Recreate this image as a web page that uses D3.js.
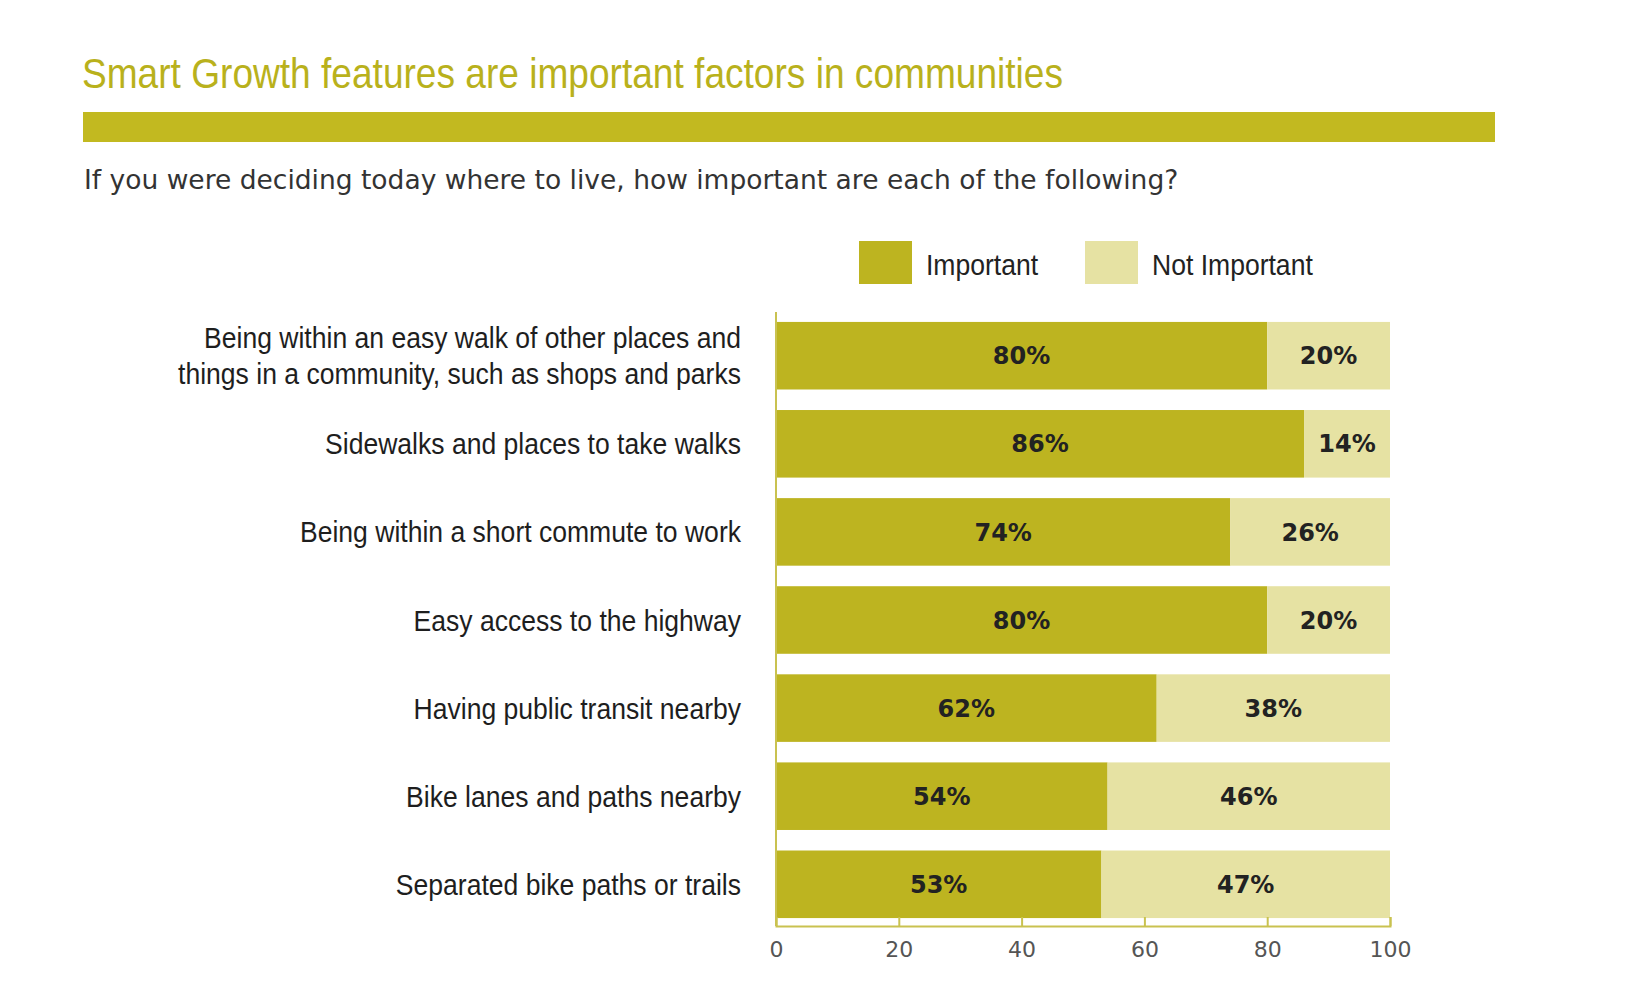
<!DOCTYPE html>
<html>
<head>
<meta charset="utf-8">
<script src="https://cdn.jsdelivr.net/npm/d3@7"></script>
<style>
  body { margin: 0; background: #fff; }
  .narrow { font-family: 'Liberation Sans', 'Arimo', 'Roboto', sans-serif; }
  .wide { font-family: 'DejaVu Sans', 'Lato', sans-serif; }
</style>
</head>
<body>
<svg id="svg_growth" width="1630" height="991"></svg>
<script>
const categories = [
  ['Being within an easy walk of other places and', 'things in a community, such as shops and parks'],
  ['Sidewalks and places to take walks'],
  ['Being within a short commute to work'],
  ['Easy access to the highway'],
  ['Having public transit nearby'],
  ['Bike lanes and paths nearby'],
  ['Separated bike paths or trails']
]
const important = [80, 86, 74, 80, 62, 54, 53]
const notImportant = [20, 14, 26, 20, 38, 46, 47]
const seriesNames = ['Important', 'Not Important']
const xTicks = [0, 20, 40, 60, 80, 100]

const colors = ['#bdb420', '#e6e2a3']

// squeeze sideways to mimic the condensed face of the original
const squeeze = 0.885

function drawChart() {
  const svg = d3.select('#svg_growth')

  // header
  svg.append('text')
    .attr('class', 'narrow')
    .attr('x', 82)
    .attr('y', 88)
    .attr('font-size', 42)
    .attr('fill', '#b9b11c')
    .attr('textLength', 981)
    .attr('lengthAdjust', 'spacingAndGlyphs')
    .text('Smart Growth features are important factors in communities')

  svg.append('rect')
    .attr('x', 83)
    .attr('y', 112)
    .attr('width', 1412)
    .attr('height', 30)
    .attr('fill', '#c2b920')

  svg.append('text')
    .attr('class', 'wide')
    .attr('x', 84)
    .attr('y', 189)
    .attr('font-size', 26.5)
    .attr('fill', '#333')
    .text('If you were deciding today where to live, how important are each of the following?')

  const rows = categories.map((c, i) => ({
    label: c,
    values: [important[i], notImportant[i]]
  }))

  const x = d3.scaleLinear().domain([0, 100]).range([776, 1390])
  const y = d3.scaleBand()
    .domain(d3.range(rows.length))
    .range([314, 926])
    .paddingInner(0.233)
    .paddingOuter(0.09)

  // legend
  const legend = svg.append('g')
  const legendX = [859, 1085]
  seriesNames.forEach((name, i) => {
    legend.append('rect')
      .attr('x', legendX[i])
      .attr('y', 241)
      .attr('width', 53)
      .attr('height', 43)
      .attr('fill', colors[i])
    legend.append('text')
      .attr('class', 'narrow')
      .attr('transform', `translate(${legendX[i] + 67}, 275) scale(${squeeze}, 1)`)
      .attr('font-size', 30)
      .attr('fill', '#222')
      .text(name)
  })

  // bars
  const rowGroups = svg.append('g')
    .selectAll('g')
    .data(rows)
    .enter()
    .append('g')
    .attr('transform', (d, i) => `translate(0, ${y(i)})`)

  rowGroups.each(function (d) {
    const g = d3.select(this)
    let start = 0
    d.values.forEach((v, j) => {
      g.append('rect')
        .attr('x', x(start))
        .attr('y', 0)
        .attr('width', x(start + v) - x(start))
        .attr('height', y.bandwidth())
        .attr('fill', colors[j])
      g.append('text')
        .attr('class', 'wide')
        .attr('x', x(start + v / 2))
        .attr('y', y.bandwidth() / 2)
        .attr('dy', '0.36em')
        .attr('text-anchor', 'middle')
        .attr('font-size', 24)
        .attr('font-weight', 'bold')
        .attr('fill', '#222')
        .text(`${v}%`)
      start += v
    })

    const mid = y.bandwidth() / 2 + 10.5 - (d.label.length - 1) * 18
    const label = g.append('text')
      .attr('class', 'narrow')
      .attr('transform', `translate(741, ${mid}) scale(${squeeze}, 1)`)
      .attr('text-anchor', 'end')
      .attr('font-size', 30)
      .attr('fill', '#1e1e1e')
    d.label.forEach((line, k) => {
      label.append('tspan')
        .attr('x', 0)
        .attr('y', k * 36)
        .text(line)
    })
  })

  // axes
  const axisColor = '#c9c250'
  svg.append('line')
    .attr('x1', x(0))
    .attr('x2', x(0))
    .attr('y1', 312)
    .attr('y2', 926)
    .attr('stroke', axisColor)
    .attr('stroke-width', 2)

  const xAxis = svg.append('g')
    .attr('transform', 'translate(0, 926)')
    .call(d3.axisBottom(x).tickValues(xTicks).tickSize(-9).tickPadding(15))

  xAxis.selectAll('path, line')
    .attr('stroke', axisColor)
    .attr('stroke-width', 2)
  xAxis.selectAll('text')
    .attr('class', 'wide')
    .attr('font-size', 22)
    .attr('fill', '#555')
}

drawChart()
</script>
</body>
</html>
